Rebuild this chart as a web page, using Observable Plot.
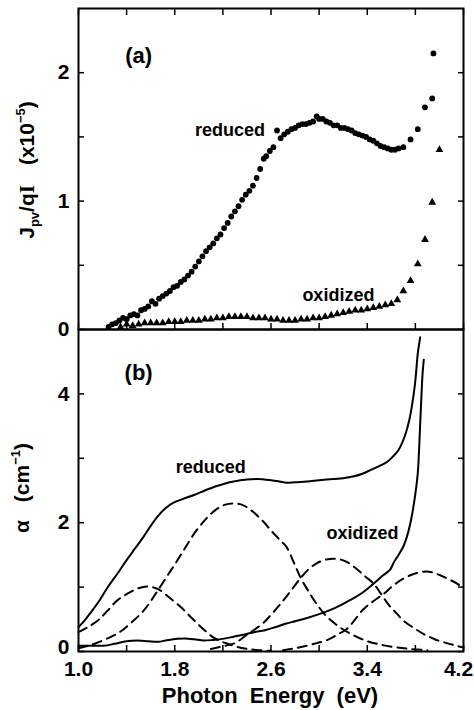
<!DOCTYPE html>
<html>
<head>
<meta charset="utf-8">
<script src="https://cdn.jsdelivr.net/npm/d3@7"></script>
<script src="https://cdn.jsdelivr.net/npm/@observablehq/plot@0.6"></script>
<style>
html, body { margin: 0; padding: 0; background: #fff; overflow: hidden; }
#chart svg { display: block; }
</style>
</head>
<body>
<div id="chart"></div>
<script>
// ---------- Panel (a): photovoltaic current J_pv/qI (x10^-5) ----------
const reducedA_E = [1.25,1.28,1.31,1.34,1.37,1.40,1.43,1.46,1.49,1.52,1.55,1.58,1.61,1.64,1.67,1.70,1.73,1.76,1.79,1.82,1.85,1.88,1.91,1.94,1.97,2.00,2.03,2.06,2.09,2.12,2.15,2.18,2.21,2.24,2.27,2.30,2.33,2.36,2.39,2.42,2.45,2.48,2.51,2.54,2.56,2.59,2.62,2.65,2.68,2.71,2.74,2.77,2.80,2.83,2.86,2.89,2.92,2.95,2.98,3.00,3.03,3.06,3.09,3.12,3.15,3.18,3.21,3.24,3.27,3.30,3.33,3.36,3.39,3.42,3.45,3.48,3.51,3.54,3.57,3.60,3.63,3.66,3.70,3.76,3.82,3.88,3.94,3.95];
const reducedA_J = [0.02,0.04,0.05,0.07,0.09,0.08,0.11,0.12,0.11,0.15,0.16,0.18,0.22,0.20,0.24,0.26,0.28,0.30,0.33,0.34,0.37,0.39,0.42,0.45,0.49,0.53,0.57,0.61,0.64,0.67,0.71,0.74,0.79,0.83,0.88,0.92,0.96,1.01,1.05,1.08,1.12,1.18,1.25,1.33,1.35,1.39,1.42,1.55,1.49,1.52,1.54,1.56,1.57,1.59,1.60,1.60,1.61,1.62,1.66,1.64,1.64,1.62,1.61,1.59,1.59,1.57,1.57,1.56,1.55,1.53,1.52,1.51,1.50,1.48,1.47,1.45,1.43,1.42,1.41,1.40,1.40,1.41,1.42,1.48,1.56,1.73,1.80,2.15];

const oxidizedA_E = [1.35,1.40,1.45,1.50,1.55,1.60,1.65,1.70,1.75,1.80,1.85,1.90,1.95,2.00,2.05,2.10,2.15,2.20,2.25,2.30,2.35,2.40,2.45,2.50,2.55,2.60,2.65,2.70,2.75,2.80,2.85,2.90,2.95,3.00,3.05,3.10,3.15,3.20,3.25,3.30,3.35,3.40,3.45,3.50,3.55,3.60,3.65,3.70,3.76,3.82,3.88,3.94,4.00];
const oxidizedA_J = [0.02,0.04,0.03,0.04,0.05,0.05,0.05,0.05,0.06,0.06,0.06,0.07,0.07,0.07,0.08,0.08,0.09,0.09,0.10,0.10,0.10,0.10,0.09,0.09,0.09,0.08,0.08,0.07,0.07,0.07,0.08,0.08,0.09,0.09,0.10,0.11,0.12,0.13,0.14,0.15,0.15,0.16,0.17,0.18,0.19,0.20,0.23,0.30,0.38,0.51,0.70,0.99,1.40];

// ---------- Panel (b): absorption coefficient alpha (cm^-1) ----------
const reducedB_E = [1.00,1.05,1.10,1.17,1.24,1.32,1.40,1.47,1.54,1.60,1.65,1.72,1.79,1.87,1.96,2.05,2.15,2.22,2.29,2.40,2.49,2.60,2.67,2.73,2.80,2.90,3.00,3.12,3.20,3.29,3.36,3.43,3.50,3.57,3.62,3.66,3.69,3.72,3.75,3.77,3.79,3.80,3.81,3.82,3.84];
const reducedB_A = [0.38,0.48,0.60,0.78,0.99,1.20,1.42,1.60,1.78,1.95,2.08,2.22,2.31,2.37,2.43,2.50,2.57,2.61,2.64,2.67,2.68,2.66,2.64,2.62,2.63,2.64,2.66,2.68,2.69,2.72,2.76,2.82,2.88,2.95,3.04,3.13,3.24,3.39,3.60,3.80,4.05,4.21,4.42,4.63,4.88];

const oxidizedB_E = [1.00,1.10,1.21,1.30,1.40,1.49,1.58,1.66,1.75,1.88,1.96,2.04,2.12,2.21,2.29,2.37,2.46,2.55,2.64,2.72,2.80,2.90,3.00,3.10,3.18,3.26,3.35,3.45,3.53,3.59,3.62,3.66,3.70,3.74,3.77,3.80,3.82,3.83,3.84,3.85,3.86,3.87];
const oxidizedB_A = [0.09,0.09,0.09,0.12,0.16,0.17,0.16,0.15,0.18,0.20,0.19,0.17,0.18,0.20,0.23,0.26,0.30,0.33,0.38,0.43,0.47,0.52,0.58,0.65,0.72,0.80,0.90,1.05,1.18,1.27,1.38,1.50,1.63,1.85,2.10,2.45,2.77,3.10,3.54,3.95,4.32,4.53];

// dashed component bands
const band1_E = [1.00,1.08,1.16,1.24,1.32,1.40,1.48,1.57,1.63,1.68,1.76,1.85,1.92,1.99,2.06,2.12,2.18,2.24,2.32,2.40,2.50,2.60];
const band1_A = [0.30,0.38,0.48,0.63,0.79,0.89,0.97,1.01,0.99,0.95,0.83,0.69,0.56,0.43,0.31,0.22,0.16,0.12,0.07,0.04,0.02,0.01];
const band2_E = [1.00,1.08,1.16,1.26,1.35,1.44,1.53,1.60,1.66,1.74,1.82,1.90,1.98,2.06,2.14,2.22,2.29,2.37,2.45,2.53,2.60,2.67,2.73,2.79,2.85,2.91,2.96,3.01,3.07,3.14,3.21,3.30,3.40,3.50,3.62,3.75,3.90];
const band2_A = [0.05,0.09,0.14,0.22,0.31,0.45,0.61,0.78,0.95,1.18,1.41,1.65,1.88,2.06,2.20,2.28,2.30,2.27,2.17,2.03,1.88,1.74,1.62,1.38,1.13,0.94,0.79,0.66,0.53,0.42,0.33,0.24,0.16,0.11,0.07,0.04,0.02];
const band3_E = [2.10,2.20,2.30,2.40,2.47,2.54,2.61,2.68,2.76,2.85,2.92,2.98,3.06,3.14,3.22,3.30,3.38,3.45,3.52,3.58,3.64,3.70,3.80,3.87,3.96,4.06,4.14,4.20];
const band3_A = [0.04,0.08,0.13,0.26,0.35,0.45,0.59,0.74,0.93,1.15,1.29,1.37,1.43,1.44,1.40,1.30,1.17,1.06,0.88,0.72,0.60,0.48,0.35,0.27,0.19,0.13,0.09,0.06];
const band4_E = [2.70,2.80,2.90,2.98,3.07,3.15,3.23,3.30,3.37,3.45,3.54,3.62,3.70,3.78,3.87,3.94,4.01,4.08,4.14,4.20];
const band4_A = [0.02,0.05,0.09,0.13,0.18,0.26,0.35,0.50,0.66,0.78,0.90,1.03,1.13,1.20,1.24,1.23,1.18,1.12,1.06,0.99];

// ticks and labels
const xTicks = [1.0,1.4,1.8,2.2,2.6,3.0,3.4,3.8,4.2];
const xLabelTicks = [1.0,1.8,2.6,3.4];
const xLabelLast = [4.2];
const yTicksA = [0,0.5,1,1.5,2];
const yLabelsA = [0,1,2];
const yTicksB = [0,1,2,3,4];
const yLabelsB = [2,4];
const yLabelZeroB = [0];

const annotA = [{x: 1.50, y: 2.13, text: "(a)", size: 22}, {x: 2.26, y: 1.55, text: "reduced", size: 18}, {x: 3.16, y: 0.27, text: "oxidized", size: 18}];
const annotB = [{x: 1.50, y: 4.33, text: "(b)", size: 22}, {x: 2.10, y: 2.86, text: "reduced", size: 18}, {x: 3.36, y: 1.83, text: "oxidized", size: 18}];

// ---------- build ----------
const zip = (xs, ys) => xs.map((x, i) => ({e: x, v: ys[i]}));
const fontFamily = "'Liberation Sans', Arial, sans-serif";
const near = (a, list) => list.some(b => Math.abs(a - b) < 1e-6);

const W = 474, ML = 78, MR = 11;
const baseStyle = {fontFamily, fontSize: "21px", fontWeight: "bold", color: "black", background: "white", overflow: "visible"};

const plotA = Plot.plot({
  width: W, height: 329,
  marginTop: 8, marginBottom: 0, marginLeft: ML, marginRight: MR,
  style: baseStyle,
  x: {domain: [1.0, 4.2]},
  y: {domain: [0, 2.5]},
  marks: [
    Plot.axisY({ticks: yTicksA, tickSize: -6, tickPadding: 15, strokeWidth: 1.5, label: null,
      tickFormat: d => near(d, yLabelsA) ? String(d) : ""}),
    Plot.axisY({anchor: "right", ticks: yTicksA, tickSize: -6, strokeWidth: 1.5, label: null, tickFormat: () => ""}),
    Plot.axisX({anchor: "top", ticks: xTicks, tickSize: -6, strokeWidth: 1.5, label: null, tickFormat: () => ""}),
    Plot.axisX({anchor: "bottom", ticks: xTicks, tickSize: -6, strokeWidth: 1.5, label: null, tickFormat: () => ""}),
    Plot.frame({stroke: "black", strokeWidth: 2}),
    Plot.dot(zip(reducedA_E, reducedA_J), {x: "e", y: "v", r: 2.9, fill: "black", stroke: null}),
    Plot.dot(zip(oxidizedA_E, oxidizedA_J), {x: "e", y: "v", r: 2.9, symbol: "triangle", fill: "black", stroke: null}),
    Plot.text(annotA, {x: "x", y: "y", text: "text", fontSize: d => d.size, fill: "black"})
  ]
});

const plotB = Plot.plot({
  width: W, height: 381,
  marginTop: 0, marginBottom: 59, marginLeft: ML, marginRight: MR,
  style: baseStyle,
  x: {domain: [1.0, 4.2]},
  y: {domain: [0, 5]},
  marks: [
    Plot.axisY({ticks: yTicksB, tickSize: -6, tickPadding: 15, strokeWidth: 1.5, label: null,
      tickFormat: d => near(d, yLabelsB) ? String(d) : ""}),
    Plot.axisY({ticks: yLabelZeroB, tickSize: 0, tickPadding: 9, dy: -4, label: null, tickFormat: d => String(d)}),
    Plot.axisY({anchor: "right", ticks: yTicksB, tickSize: -6, strokeWidth: 1.5, label: null, tickFormat: () => ""}),
    Plot.axisX({anchor: "bottom", ticks: xTicks, tickSize: -6, tickPadding: 16, strokeWidth: 1.5, label: null,
      tickFormat: d => near(d, xLabelTicks) ? d.toFixed(1) : ""}),
    Plot.axisX({anchor: "bottom", ticks: xLabelLast, tickSize: 0, tickPadding: 10, dx: -5, label: null,
      tickFormat: d => d.toFixed(1)}),
    Plot.frame({stroke: "black", strokeWidth: 2}),
    Plot.line(zip(band1_E, band1_A), {x: "e", y: "v", stroke: "black", strokeWidth: 2, strokeDasharray: "9,6", curve: "catmull-rom"}),
    Plot.line(zip(band2_E, band2_A), {x: "e", y: "v", stroke: "black", strokeWidth: 2, strokeDasharray: "9,6", curve: "catmull-rom"}),
    Plot.line(zip(band3_E, band3_A), {x: "e", y: "v", stroke: "black", strokeWidth: 2, strokeDasharray: "9,6", curve: "catmull-rom"}),
    Plot.line(zip(band4_E, band4_A), {x: "e", y: "v", stroke: "black", strokeWidth: 2, strokeDasharray: "9,6", curve: "catmull-rom"}),
    Plot.line(zip(reducedB_E, reducedB_A), {x: "e", y: "v", stroke: "black", strokeWidth: 2, curve: "catmull-rom"}),
    Plot.line(zip(oxidizedB_E, oxidizedB_A), {x: "e", y: "v", stroke: "black", strokeWidth: 2, curve: "catmull-rom"}),
    Plot.text(annotB, {x: "x", y: "y", text: "text", fontSize: d => d.size, fill: "black"})
  ]
});

const chart = document.getElementById("chart");
chart.appendChild(plotA);
chart.appendChild(plotB);

// axis titles with sub/superscripts
function yTitle(svg, cx, cy, parts) {
  const t = d3.select(svg).append("text")
    .attr("transform", `translate(${cx},${cy}) rotate(-90)`)
    .attr("text-anchor", "middle")
    .attr("font-size", 21)
    .attr("fill", "black");
  parts.forEach(p => {
    const s = t.append("tspan").text(p.t);
    if (p.size) s.attr("font-size", p.size);
    if (p.dy) s.attr("dy", p.dy);
    if (p.dx) s.attr("dx", p.dx);
    if (p.font) s.attr("font-family", p.font);
  });
}
yTitle(plotA, 34, 170, [
  {t: "J"}, {t: "pv", size: 13, dy: 5}, {t: "/q", dy: -5}, {t: "I", font: "'Liberation Serif', serif"},
  {t: "(x10", dx: 20}, {t: "\u22125", size: 13, dy: -9}, {t: ")", dy: 9}
]);
yTitle(plotB, 29, 488 - 329, [
  {t: "\u03b1"}, {t: "(cm", dx: 18}, {t: "\u22121", size: 13, dy: -9}, {t: ")", dy: 9}
]);
d3.select(plotB).append("text")
  .attr("x", 270).attr("y", 374)
  .attr("text-anchor", "middle")
  .attr("font-size", 22)
  .attr("fill", "black")
  .style("white-space", "pre")
  .text("Photon  Energy  (eV)");
</script>
</body>
</html>
